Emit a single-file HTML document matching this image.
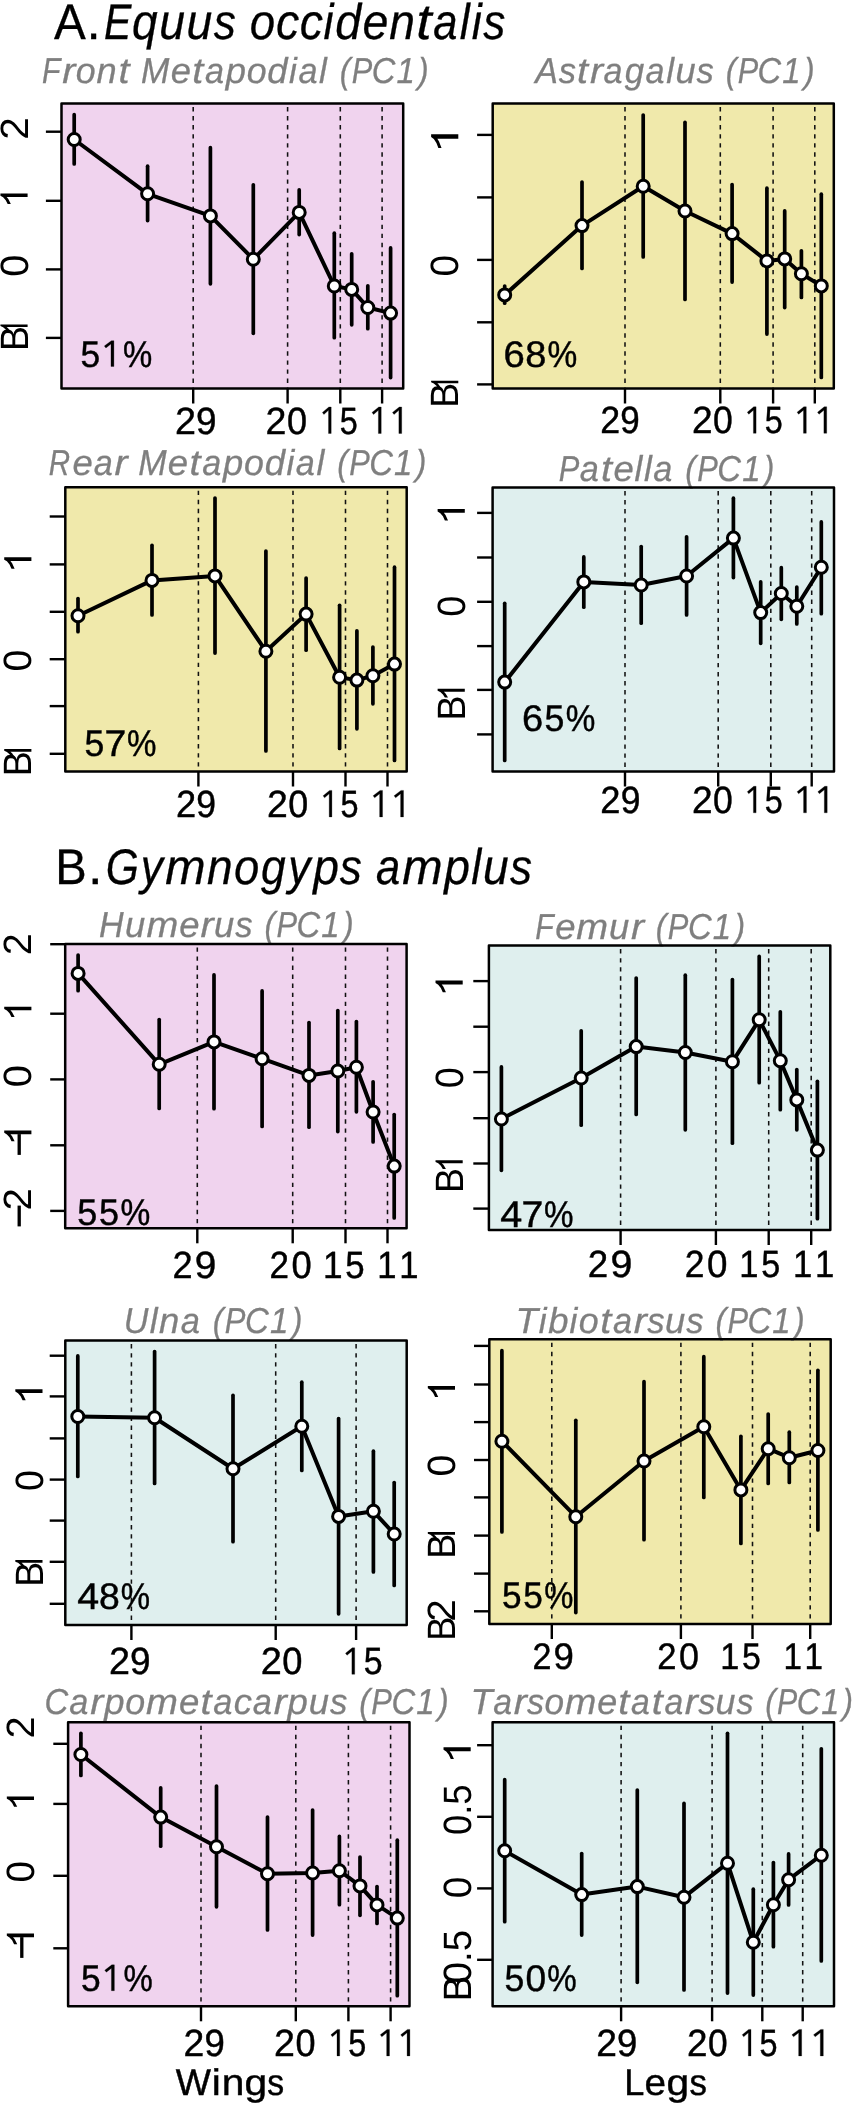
<!DOCTYPE html>
<html lang="en"><head><meta charset="utf-8"><title>Figure</title>
<style>
html,body{margin:0;padding:0;background:#fff;width:854px;height:2104px;overflow:hidden;}
svg{display:block;font-family:"Liberation Sans",sans-serif;font-kerning:none;}
text{font-kerning:none;text-rendering:geometricPrecision;}
.t{filter:grayscale(1);}
</style></head><body>
<svg width="854" height="2104" viewBox="0 0 854 2104">
<rect x="0" y="0" width="854" height="2104" fill="#fff"/>
<g class="t" font-size="50" fill="#000" stroke="#000" stroke-width="0.3">
<text transform="translate(54.11,38.60) scale(0.953,1)">A</text>
<text transform="translate(86.56,38.60) scale(1.023,1)">.</text>
</g>
<g class="t" font-size="50" font-style="italic" fill="#000" stroke="#000" stroke-width="0.3">
<text transform="translate(103.97,38.60) scale(0.820,1)">E</text>
<text transform="translate(131.91,38.60) scale(0.920,1)">q</text>
<text transform="translate(159.29,38.60) scale(0.926,1)">u</text>
<text transform="translate(186.53,38.60) scale(0.926,1)">u</text>
<text transform="translate(213.63,38.60) scale(0.882,1)">s</text>
<text transform="translate(249.77,38.60) scale(0.911,1)">o</text>
<text transform="translate(276.03,38.60) scale(0.926,1)">c</text>
<text transform="translate(299.65,38.60) scale(0.926,1)">c</text>
<text transform="translate(323.60,38.60) scale(0.898,1)">i</text>
<text transform="translate(335.17,38.60) scale(0.931,1)">d</text>
<text transform="translate(362.45,38.60) scale(0.931,1)">e</text>
<text transform="translate(389.23,38.60) scale(0.925,1)">n</text>
<text transform="translate(416.36,38.60) scale(1.100,1)">t</text>
<text transform="translate(433.36,38.60) scale(0.871,1)">a</text>
<text transform="translate(459.69,38.60) scale(0.898,1)">l</text>
<text transform="translate(471.63,38.60) scale(0.898,1)">i</text>
<text transform="translate(483.16,38.60) scale(0.882,1)">s</text>
</g>
<g class="t" font-size="50" fill="#000" stroke="#000" stroke-width="0.3">
<text transform="translate(55.13,884.20) scale(0.943,1)">B</text>
<text transform="translate(87.91,884.20) scale(1.050,1)">.</text>
</g>
<g class="t" font-size="50" font-style="italic" fill="#000" stroke="#000" stroke-width="0.3">
<text transform="translate(105.80,884.20) scale(0.851,1)">G</text>
<text transform="translate(140.64,884.20) scale(0.887,1)">y</text>
<text transform="translate(165.22,884.20) scale(0.970,1)">m</text>
<text transform="translate(207.00,884.20) scale(0.922,1)">n</text>
<text transform="translate(233.90,884.20) scale(0.908,1)">o</text>
<text transform="translate(260.92,884.20) scale(0.887,1)">g</text>
<text transform="translate(288.28,884.20) scale(0.887,1)">y</text>
<text transform="translate(313.20,884.20) scale(0.925,1)">p</text>
<text transform="translate(339.75,884.20) scale(0.879,1)">s</text>
<text transform="translate(376.08,884.20) scale(0.869,1)">a</text>
<text transform="translate(402.24,884.20) scale(0.970,1)">m</text>
<text transform="translate(444.31,884.20) scale(0.925,1)">p</text>
<text transform="translate(471.27,884.20) scale(0.895,1)">l</text>
<text transform="translate(482.91,884.20) scale(0.923,1)">u</text>
<text transform="translate(509.92,884.20) scale(0.879,1)">s</text>
</g>
<rect x="61.5" y="103.5" width="341.70" height="285.00" fill="#F0D3EE"/>
<line x1="193.2" y1="107.00" x2="193.2" y2="388.5" stroke="#111" stroke-width="1.55" stroke-dasharray="4.4 4.65"/>
<line x1="193.2" y1="388.5" x2="193.2" y2="403.5" stroke="#000" stroke-width="2.4"/>
<line x1="287.6" y1="107.00" x2="287.6" y2="388.5" stroke="#111" stroke-width="1.55" stroke-dasharray="4.4 4.65"/>
<line x1="287.6" y1="388.5" x2="287.6" y2="403.5" stroke="#000" stroke-width="2.4"/>
<line x1="340.3" y1="107.00" x2="340.3" y2="388.5" stroke="#111" stroke-width="1.55" stroke-dasharray="4.4 4.65"/>
<line x1="340.3" y1="388.5" x2="340.3" y2="403.5" stroke="#000" stroke-width="2.4"/>
<line x1="382.1" y1="107.00" x2="382.1" y2="388.5" stroke="#111" stroke-width="1.55" stroke-dasharray="4.4 4.65"/>
<line x1="382.1" y1="388.5" x2="382.1" y2="403.5" stroke="#000" stroke-width="2.4"/>
<line x1="45.9" y1="131.7" x2="61.5" y2="131.7" stroke="#000" stroke-width="2.4"/>
<line x1="45.9" y1="200.8" x2="61.5" y2="200.8" stroke="#000" stroke-width="2.4"/>
<line x1="45.9" y1="269.4" x2="61.5" y2="269.4" stroke="#000" stroke-width="2.4"/>
<line x1="45.9" y1="337.9" x2="61.5" y2="337.9" stroke="#000" stroke-width="2.4"/>
<g class="t" font-size="36" font-style="italic" fill="#7F7F7F" stroke="#7F7F7F" stroke-width="0.3">
<text transform="translate(41.97,83.00) scale(0.837,1)">F</text>
<text transform="translate(62.21,83.00) scale(1.100,1)">r</text>
<text transform="translate(75.64,83.00) scale(0.991,1)">o</text>
<text transform="translate(96.48,83.00) scale(1.006,1)">n</text>
<text transform="translate(118.40,83.00) scale(1.100,1)">t</text>
<text transform="translate(141.09,83.00) scale(0.945,1)">M</text>
<text transform="translate(170.65,83.00) scale(1.013,1)">e</text>
<text transform="translate(192.20,83.00) scale(1.100,1)">t</text>
<text transform="translate(204.92,83.00) scale(0.949,1)">a</text>
<text transform="translate(225.78,83.00) scale(1.010,1)">p</text>
<text transform="translate(246.77,83.00) scale(0.991,1)">o</text>
<text transform="translate(267.34,83.00) scale(1.013,1)">d</text>
<text transform="translate(289.06,83.00) scale(0.975,1)">i</text>
<text transform="translate(298.42,83.00) scale(0.949,1)">a</text>
<text transform="translate(319.10,83.00) scale(0.975,1)">l</text>
<text transform="translate(339.68,83.00) scale(0.884,1)">(</text>
<text transform="translate(351.69,83.00) scale(0.854,1)">P</text>
<text transform="translate(371.68,83.00) scale(0.910,1)">C</text>
<text transform="translate(396.42,83.00) scale(0.916,1)">1</text>
<text transform="translate(418.09,83.00) scale(0.885,1)">)</text>
</g>
<rect x="61.5" y="103.5" width="341.70" height="285.00" fill="none" stroke="#000" stroke-width="2.5" stroke-linejoin="round"/>
<line x1="74.2" y1="114.7" x2="74.2" y2="164.0" stroke="#000" stroke-width="3.7" stroke-linecap="round"/>
<line x1="147.6" y1="166.2" x2="147.6" y2="220.6" stroke="#000" stroke-width="3.7" stroke-linecap="round"/>
<line x1="210.4" y1="147.7" x2="210.4" y2="283.8" stroke="#000" stroke-width="3.7" stroke-linecap="round"/>
<line x1="253.3" y1="184.8" x2="253.3" y2="333.3" stroke="#000" stroke-width="3.7" stroke-linecap="round"/>
<line x1="299.2" y1="189.9" x2="299.2" y2="234.6" stroke="#000" stroke-width="3.7" stroke-linecap="round"/>
<line x1="334.3" y1="233.2" x2="334.3" y2="337.7" stroke="#000" stroke-width="3.7" stroke-linecap="round"/>
<line x1="351.7" y1="253.8" x2="351.7" y2="324.8" stroke="#000" stroke-width="3.7" stroke-linecap="round"/>
<line x1="367.8" y1="285.8" x2="367.8" y2="328.7" stroke="#000" stroke-width="3.7" stroke-linecap="round"/>
<line x1="390.6" y1="247.9" x2="390.6" y2="377.6" stroke="#000" stroke-width="3.7" stroke-linecap="round"/>
<polyline fill="none" stroke="#000" stroke-width="4.0" stroke-linejoin="round" points="74.2,139.5 147.6,193.8 210.4,215.9 253.3,259.2 299.2,212.4 334.3,286.0 351.7,289.4 367.8,307.5 390.6,313.1"/>
<circle cx="74.2" cy="139.5" r="6.0" fill="#fff" stroke="#000" stroke-width="3.0"/>
<circle cx="147.6" cy="193.8" r="6.0" fill="#fff" stroke="#000" stroke-width="3.0"/>
<circle cx="210.4" cy="215.9" r="6.0" fill="#fff" stroke="#000" stroke-width="3.0"/>
<circle cx="253.3" cy="259.2" r="6.0" fill="#fff" stroke="#000" stroke-width="3.0"/>
<circle cx="299.2" cy="212.4" r="6.0" fill="#fff" stroke="#000" stroke-width="3.0"/>
<circle cx="334.3" cy="286.0" r="6.0" fill="#fff" stroke="#000" stroke-width="3.0"/>
<circle cx="351.7" cy="289.4" r="6.0" fill="#fff" stroke="#000" stroke-width="3.0"/>
<circle cx="367.8" cy="307.5" r="6.0" fill="#fff" stroke="#000" stroke-width="3.0"/>
<circle cx="390.6" cy="313.1" r="6.0" fill="#fff" stroke="#000" stroke-width="3.0"/>
<text transform="translate(27.60,137.80) rotate(-90) scale(1.0281,1.0) translate(-1.99,0)" class="t" font-size="39.5" fill="#000">2</text>
<polygon transform="translate(27.60,204.10) rotate(-90)" points="10.70,0.00 7.13,0.00 7.13,-20.95 5.09,-19.28 0.00,-16.78 0.00,-19.93 3.90,-21.87 6.88,-24.47 8.46,-27.18 10.70,-27.18" fill="#000"/>
<text transform="translate(27.60,275.20) rotate(-90) scale(1.0062,1.0) translate(-1.54,0)" class="t" font-size="39.5" fill="#000">0</text>
<text transform="translate(27.60,348.00) rotate(-90) scale(0.9513,1.0) translate(-3.24,0)" class="t" font-size="39.5" fill="#000">B</text>
<polygon transform="translate(27.60,332.40) rotate(-90)" points="8.00,0.00 5.33,0.00 5.33,-20.95 3.81,-19.28 0.00,-16.78 0.00,-19.93 2.92,-21.87 5.14,-24.47 6.33,-27.18 8.00,-27.18" fill="#000"/>
<g class="t" font-size="38" fill="#000" stroke="#000" stroke-width="0.45">
<text transform="translate(174.90,433.50) scale(0.992,1)">2</text>
<text transform="translate(196.10,433.50) scale(0.972,1)">9</text>
</g>
<g class="t" font-size="38" fill="#000" stroke="#000" stroke-width="0.45">
<text transform="translate(265.61,433.50) scale(0.988,1)">2</text>
<text transform="translate(286.98,433.50) scale(0.948,1)">0</text>
</g>
<g class="t" font-size="38" fill="#000" stroke="#000" stroke-width="0.45">
<polygon points="331.20,433.50 328.50,433.50 328.50,410.37 323.87,414.47 322.40,412.40 328.86,406.98 331.20,406.98" stroke-width="0.27"/>
<text transform="translate(339.74,433.50) scale(0.853,1)">5</text>
</g>
<g class="t" font-size="38" fill="#000" stroke="#000" stroke-width="0.45">
<polygon points="381.22,433.50 378.38,433.50 378.38,410.37 373.54,414.47 372.00,412.40 378.77,406.98 381.22,406.98" stroke-width="0.27"/>
<polygon points="401.70,433.50 398.87,433.50 398.87,410.37 394.02,414.47 392.48,412.40 399.25,406.98 401.70,406.98" stroke-width="0.27"/>
</g>
<g class="t" font-size="37" fill="#000" stroke="#000" stroke-width="0.45">
<text transform="translate(80.59,366.50) scale(0.955,1)">5</text>
<polygon points="113.91,366.50 110.97,366.50 110.97,343.98 105.92,347.97 104.32,345.96 111.37,340.67 113.91,340.67" stroke-width="0.27"/>
<text transform="translate(122.94,366.50) scale(0.889,1)">%</text>
</g>
<rect x="492.7" y="103.5" width="341.10" height="285.00" fill="#F0E9AB"/>
<line x1="625.0" y1="107.00" x2="625.0" y2="388.5" stroke="#111" stroke-width="1.55" stroke-dasharray="4.4 4.65"/>
<line x1="625.0" y1="388.5" x2="625.0" y2="403.5" stroke="#000" stroke-width="2.4"/>
<line x1="720.3" y1="107.00" x2="720.3" y2="388.5" stroke="#111" stroke-width="1.55" stroke-dasharray="4.4 4.65"/>
<line x1="720.3" y1="388.5" x2="720.3" y2="403.5" stroke="#000" stroke-width="2.4"/>
<line x1="773.1" y1="107.00" x2="773.1" y2="388.5" stroke="#111" stroke-width="1.55" stroke-dasharray="4.4 4.65"/>
<line x1="773.1" y1="388.5" x2="773.1" y2="403.5" stroke="#000" stroke-width="2.4"/>
<line x1="814.8" y1="107.00" x2="814.8" y2="388.5" stroke="#111" stroke-width="1.55" stroke-dasharray="4.4 4.65"/>
<line x1="814.8" y1="388.5" x2="814.8" y2="403.5" stroke="#000" stroke-width="2.4"/>
<line x1="477.1" y1="134.9" x2="492.7" y2="134.9" stroke="#000" stroke-width="2.4"/>
<line x1="477.1" y1="197.4" x2="492.7" y2="197.4" stroke="#000" stroke-width="2.4"/>
<line x1="477.1" y1="259.9" x2="492.7" y2="259.9" stroke="#000" stroke-width="2.4"/>
<line x1="477.1" y1="322.3" x2="492.7" y2="322.3" stroke="#000" stroke-width="2.4"/>
<line x1="477.1" y1="384.4" x2="492.7" y2="384.4" stroke="#000" stroke-width="2.4"/>
<g class="t" font-size="36" font-style="italic" fill="#7F7F7F" stroke="#7F7F7F" stroke-width="0.3">
<text transform="translate(535.27,83.20) scale(0.943,1)">A</text>
<text transform="translate(558.71,83.20) scale(0.958,1)">s</text>
<text transform="translate(577.07,83.20) scale(1.100,1)">t</text>
<text transform="translate(589.95,83.20) scale(1.100,1)">r</text>
<text transform="translate(603.61,83.20) scale(0.947,1)">a</text>
<text transform="translate(624.64,83.20) scale(0.967,1)">g</text>
<text transform="translate(645.61,83.20) scale(0.947,1)">a</text>
<text transform="translate(666.24,83.20) scale(0.973,1)">l</text>
<text transform="translate(675.38,83.20) scale(1.006,1)">u</text>
<text transform="translate(696.60,83.20) scale(0.958,1)">s</text>
<text transform="translate(725.66,83.20) scale(0.882,1)">(</text>
<text transform="translate(737.64,83.20) scale(0.852,1)">P</text>
<text transform="translate(757.59,83.20) scale(0.908,1)">C</text>
<text transform="translate(782.28,83.20) scale(0.915,1)">1</text>
<text transform="translate(803.90,83.20) scale(0.883,1)">)</text>
</g>
<rect x="492.7" y="103.5" width="341.10" height="285.00" fill="none" stroke="#000" stroke-width="2.5" stroke-linejoin="round"/>
<line x1="504.7" y1="286.1" x2="504.7" y2="303.2" stroke="#000" stroke-width="3.7" stroke-linecap="round"/>
<line x1="582.0" y1="182.1" x2="582.0" y2="268.5" stroke="#000" stroke-width="3.7" stroke-linecap="round"/>
<line x1="643.2" y1="115.1" x2="643.2" y2="256.9" stroke="#000" stroke-width="3.7" stroke-linecap="round"/>
<line x1="685.0" y1="122.3" x2="685.0" y2="299.4" stroke="#000" stroke-width="3.7" stroke-linecap="round"/>
<line x1="732.1" y1="184.6" x2="732.1" y2="282.1" stroke="#000" stroke-width="3.7" stroke-linecap="round"/>
<line x1="766.9" y1="188.2" x2="766.9" y2="334.1" stroke="#000" stroke-width="3.7" stroke-linecap="round"/>
<line x1="784.7" y1="210.9" x2="784.7" y2="307.6" stroke="#000" stroke-width="3.7" stroke-linecap="round"/>
<line x1="801.4" y1="250.8" x2="801.4" y2="297.5" stroke="#000" stroke-width="3.7" stroke-linecap="round"/>
<line x1="821.3" y1="194.2" x2="821.3" y2="377.4" stroke="#000" stroke-width="3.7" stroke-linecap="round"/>
<polyline fill="none" stroke="#000" stroke-width="4.0" stroke-linejoin="round" points="504.7,294.9 582.0,225.6 643.2,186.2 685.0,211.0 732.1,233.6 766.9,260.9 784.7,258.9 801.4,273.8 821.3,285.9"/>
<circle cx="504.7" cy="294.9" r="6.0" fill="#fff" stroke="#000" stroke-width="3.0"/>
<circle cx="582.0" cy="225.6" r="6.0" fill="#fff" stroke="#000" stroke-width="3.0"/>
<circle cx="643.2" cy="186.2" r="6.0" fill="#fff" stroke="#000" stroke-width="3.0"/>
<circle cx="685.0" cy="211.0" r="6.0" fill="#fff" stroke="#000" stroke-width="3.0"/>
<circle cx="732.1" cy="233.6" r="6.0" fill="#fff" stroke="#000" stroke-width="3.0"/>
<circle cx="766.9" cy="260.9" r="6.0" fill="#fff" stroke="#000" stroke-width="3.0"/>
<circle cx="784.7" cy="258.9" r="6.0" fill="#fff" stroke="#000" stroke-width="3.0"/>
<circle cx="801.4" cy="273.8" r="6.0" fill="#fff" stroke="#000" stroke-width="3.0"/>
<circle cx="821.3" cy="285.9" r="6.0" fill="#fff" stroke="#000" stroke-width="3.0"/>
<polygon transform="translate(458.30,147.90) rotate(-90)" points="13.70,0.00 9.13,0.00 9.13,-20.95 6.52,-19.28 0.00,-16.78 0.00,-19.93 5.00,-21.87 8.80,-24.47 10.83,-27.18 13.70,-27.18" fill="#000"/>
<text transform="translate(458.30,275.10) rotate(-90) scale(0.9851,1.0) translate(-1.54,0)" class="t" font-size="39.5" fill="#000">0</text>
<text transform="translate(458.30,404.70) rotate(-90) scale(0.9513,1.0) translate(-3.24,0)" class="t" font-size="39.5" fill="#000">B</text>
<polygon transform="translate(458.30,388.70) rotate(-90)" points="8.00,0.00 5.33,0.00 5.33,-20.95 3.81,-19.28 0.00,-16.78 0.00,-19.93 2.92,-21.87 5.14,-24.47 6.33,-27.18 8.00,-27.18" fill="#000"/>
<g class="t" font-size="38" fill="#000" stroke="#000" stroke-width="0.45">
<text transform="translate(600.20,433.30) scale(0.940,1)">2</text>
<text transform="translate(620.29,433.30) scale(0.921,1)">9</text>
</g>
<g class="t" font-size="38" fill="#000" stroke="#000" stroke-width="0.45">
<text transform="translate(691.94,433.30) scale(0.975,1)">2</text>
<text transform="translate(713.02,433.30) scale(0.935,1)">0</text>
</g>
<g class="t" font-size="38" fill="#000" stroke="#000" stroke-width="0.45">
<polygon points="756.10,433.30 753.40,433.30 753.40,410.17 748.77,414.27 747.30,412.20 753.76,406.78 756.10,406.78" stroke-width="0.27"/>
<text transform="translate(764.64,433.30) scale(0.853,1)">5</text>
</g>
<g class="t" font-size="38" fill="#000" stroke="#000" stroke-width="0.45">
<polygon points="806.29,433.30 803.46,433.30 803.46,410.17 798.63,414.27 797.10,412.20 803.85,406.78 806.29,406.78" stroke-width="0.27"/>
<polygon points="826.70,433.30 823.88,433.30 823.88,410.17 819.05,414.27 817.51,412.20 824.26,406.78 826.70,406.78" stroke-width="0.27"/>
</g>
<g class="t" font-size="37" fill="#000" stroke="#000" stroke-width="0.45">
<text transform="translate(503.56,366.50) scale(1.035,1)">6</text>
<text transform="translate(525.30,366.50) scale(1.025,1)">8</text>
<text transform="translate(547.45,366.50) scale(0.904,1)">%</text>
</g>
<rect x="65.3" y="487.2" width="341.40" height="284.30" fill="#F0E9AB"/>
<line x1="198.4" y1="490.70" x2="198.4" y2="771.5" stroke="#111" stroke-width="1.55" stroke-dasharray="4.4 4.65"/>
<line x1="198.4" y1="771.5" x2="198.4" y2="786.5" stroke="#000" stroke-width="2.4"/>
<line x1="293.0" y1="490.70" x2="293.0" y2="771.5" stroke="#111" stroke-width="1.55" stroke-dasharray="4.4 4.65"/>
<line x1="293.0" y1="771.5" x2="293.0" y2="786.5" stroke="#000" stroke-width="2.4"/>
<line x1="345.5" y1="490.70" x2="345.5" y2="771.5" stroke="#111" stroke-width="1.55" stroke-dasharray="4.4 4.65"/>
<line x1="345.5" y1="771.5" x2="345.5" y2="786.5" stroke="#000" stroke-width="2.4"/>
<line x1="387.5" y1="490.70" x2="387.5" y2="771.5" stroke="#111" stroke-width="1.55" stroke-dasharray="4.4 4.65"/>
<line x1="387.5" y1="771.5" x2="387.5" y2="786.5" stroke="#000" stroke-width="2.4"/>
<line x1="49.7" y1="516.5" x2="65.3" y2="516.5" stroke="#000" stroke-width="2.4"/>
<line x1="49.7" y1="564.4" x2="65.3" y2="564.4" stroke="#000" stroke-width="2.4"/>
<line x1="49.7" y1="611.8" x2="65.3" y2="611.8" stroke="#000" stroke-width="2.4"/>
<line x1="49.7" y1="659.2" x2="65.3" y2="659.2" stroke="#000" stroke-width="2.4"/>
<line x1="49.7" y1="706.1" x2="65.3" y2="706.1" stroke="#000" stroke-width="2.4"/>
<line x1="49.7" y1="753.8" x2="65.3" y2="753.8" stroke="#000" stroke-width="2.4"/>
<g class="t" font-size="36" font-style="italic" fill="#7F7F7F" stroke="#7F7F7F" stroke-width="0.3">
<text transform="translate(48.72,475.30) scale(0.820,1)">R</text>
<text transform="translate(72.59,475.30) scale(1.015,1)">e</text>
<text transform="translate(93.67,475.30) scale(0.950,1)">a</text>
<text transform="translate(114.58,475.30) scale(1.100,1)">r</text>
<text transform="translate(138.24,475.30) scale(0.946,1)">M</text>
<text transform="translate(167.85,475.30) scale(1.015,1)">e</text>
<text transform="translate(189.45,475.30) scale(1.100,1)">t</text>
<text transform="translate(202.18,475.30) scale(0.950,1)">a</text>
<text transform="translate(223.07,475.30) scale(1.012,1)">p</text>
<text transform="translate(244.09,475.30) scale(0.992,1)">o</text>
<text transform="translate(264.70,475.30) scale(1.014,1)">d</text>
<text transform="translate(286.44,475.30) scale(0.977,1)">i</text>
<text transform="translate(295.82,475.30) scale(0.950,1)">a</text>
<text transform="translate(316.53,475.30) scale(0.977,1)">l</text>
<text transform="translate(337.14,475.30) scale(0.885,1)">(</text>
<text transform="translate(349.17,475.30) scale(0.855,1)">P</text>
<text transform="translate(369.19,475.30) scale(0.911,1)">C</text>
<text transform="translate(393.97,475.30) scale(0.918,1)">1</text>
<text transform="translate(415.67,475.30) scale(0.886,1)">)</text>
</g>
<rect x="65.3" y="487.2" width="341.40" height="284.30" fill="none" stroke="#000" stroke-width="2.5" stroke-linejoin="round"/>
<line x1="78.0" y1="598.6" x2="78.0" y2="631.7" stroke="#000" stroke-width="3.7" stroke-linecap="round"/>
<line x1="152.0" y1="545.3" x2="152.0" y2="615.0" stroke="#000" stroke-width="3.7" stroke-linecap="round"/>
<line x1="215.0" y1="498.0" x2="215.0" y2="653.1" stroke="#000" stroke-width="3.7" stroke-linecap="round"/>
<line x1="265.9" y1="551.0" x2="265.9" y2="751.0" stroke="#000" stroke-width="3.7" stroke-linecap="round"/>
<line x1="306.1" y1="578.0" x2="306.1" y2="650.2" stroke="#000" stroke-width="3.7" stroke-linecap="round"/>
<line x1="339.6" y1="605.3" x2="339.6" y2="748.4" stroke="#000" stroke-width="3.7" stroke-linecap="round"/>
<line x1="356.9" y1="630.8" x2="356.9" y2="728.8" stroke="#000" stroke-width="3.7" stroke-linecap="round"/>
<line x1="372.9" y1="647.1" x2="372.9" y2="703.8" stroke="#000" stroke-width="3.7" stroke-linecap="round"/>
<line x1="394.5" y1="567.2" x2="394.5" y2="760.5" stroke="#000" stroke-width="3.7" stroke-linecap="round"/>
<polyline fill="none" stroke="#000" stroke-width="4.0" stroke-linejoin="round" points="78.0,615.7 152.0,580.4 215.0,575.9 265.9,651.2 306.1,614.1 339.6,677.3 356.9,680.1 372.9,675.7 394.5,664.1"/>
<circle cx="78.0" cy="615.7" r="6.0" fill="#fff" stroke="#000" stroke-width="3.0"/>
<circle cx="152.0" cy="580.4" r="6.0" fill="#fff" stroke="#000" stroke-width="3.0"/>
<circle cx="215.0" cy="575.9" r="6.0" fill="#fff" stroke="#000" stroke-width="3.0"/>
<circle cx="265.9" cy="651.2" r="6.0" fill="#fff" stroke="#000" stroke-width="3.0"/>
<circle cx="306.1" cy="614.1" r="6.0" fill="#fff" stroke="#000" stroke-width="3.0"/>
<circle cx="339.6" cy="677.3" r="6.0" fill="#fff" stroke="#000" stroke-width="3.0"/>
<circle cx="356.9" cy="680.1" r="6.0" fill="#fff" stroke="#000" stroke-width="3.0"/>
<circle cx="372.9" cy="675.7" r="6.0" fill="#fff" stroke="#000" stroke-width="3.0"/>
<circle cx="394.5" cy="664.1" r="6.0" fill="#fff" stroke="#000" stroke-width="3.0"/>
<polygon transform="translate(31.40,568.80) rotate(-90)" points="11.60,0.00 7.73,0.00 7.73,-20.95 5.52,-19.28 0.00,-16.78 0.00,-19.93 4.23,-21.87 7.45,-24.47 9.17,-27.18 11.60,-27.18" fill="#000"/>
<text transform="translate(31.40,670.00) rotate(-90) scale(0.9957,1.0) translate(-1.54,0)" class="t" font-size="39.5" fill="#000">0</text>
<text transform="translate(31.40,773.10) rotate(-90) scale(0.9513,1.0) translate(-3.24,0)" class="t" font-size="39.5" fill="#000">B</text>
<polygon transform="translate(31.40,757.10) rotate(-90)" points="8.00,0.00 5.33,0.00 5.33,-20.95 3.81,-19.28 0.00,-16.78 0.00,-19.93 2.92,-21.87 5.14,-24.47 6.33,-27.18 8.00,-27.18" fill="#000"/>
<g class="t" font-size="38" fill="#000" stroke="#000" stroke-width="0.45">
<text transform="translate(175.88,816.90) scale(0.953,1)">2</text>
<text transform="translate(196.24,816.90) scale(0.934,1)">9</text>
</g>
<g class="t" font-size="38" fill="#000" stroke="#000" stroke-width="0.45">
<text transform="translate(267.12,816.90) scale(0.983,1)">2</text>
<text transform="translate(288.37,816.90) scale(0.943,1)">0</text>
</g>
<g class="t" font-size="38" fill="#000" stroke="#000" stroke-width="0.45">
<polygon points="331.90,816.90 329.20,816.90 329.20,793.77 324.57,797.87 323.10,795.80 329.56,790.38 331.90,790.38" stroke-width="0.27"/>
<text transform="translate(340.44,816.90) scale(0.853,1)">5</text>
</g>
<g class="t" font-size="38" fill="#000" stroke="#000" stroke-width="0.45">
<polygon points="382.54,816.90 379.63,816.90 379.63,793.77 374.68,797.87 373.10,795.80 380.03,790.38 382.54,790.38" stroke-width="0.27"/>
<polygon points="403.50,816.90 400.60,816.90 400.60,793.77 395.64,797.87 394.06,795.80 400.99,790.38 403.50,790.38" stroke-width="0.27"/>
</g>
<g class="t" font-size="37" fill="#000" stroke="#000" stroke-width="0.45">
<text transform="translate(84.38,755.60) scale(0.962,1)">5</text>
<text transform="translate(104.55,755.60) scale(1.061,1)">7</text>
<text transform="translate(127.03,755.60) scale(0.895,1)">%</text>
</g>
<rect x="492.6" y="487.5" width="341.40" height="284.00" fill="#DFEFEE"/>
<line x1="625.0" y1="491.00" x2="625.0" y2="771.5" stroke="#111" stroke-width="1.55" stroke-dasharray="4.4 4.65"/>
<line x1="625.0" y1="771.5" x2="625.0" y2="786.5" stroke="#000" stroke-width="2.4"/>
<line x1="718.2" y1="491.00" x2="718.2" y2="771.5" stroke="#111" stroke-width="1.55" stroke-dasharray="4.4 4.65"/>
<line x1="718.2" y1="771.5" x2="718.2" y2="786.5" stroke="#000" stroke-width="2.4"/>
<line x1="770.8" y1="491.00" x2="770.8" y2="771.5" stroke="#111" stroke-width="1.55" stroke-dasharray="4.4 4.65"/>
<line x1="770.8" y1="771.5" x2="770.8" y2="786.5" stroke="#000" stroke-width="2.4"/>
<line x1="811.7" y1="491.00" x2="811.7" y2="771.5" stroke="#111" stroke-width="1.55" stroke-dasharray="4.4 4.65"/>
<line x1="811.7" y1="771.5" x2="811.7" y2="786.5" stroke="#000" stroke-width="2.4"/>
<line x1="477.1" y1="512.9" x2="492.6" y2="512.9" stroke="#000" stroke-width="2.4"/>
<line x1="477.1" y1="557.5" x2="492.6" y2="557.5" stroke="#000" stroke-width="2.4"/>
<line x1="477.1" y1="601.8" x2="492.6" y2="601.8" stroke="#000" stroke-width="2.4"/>
<line x1="477.1" y1="646.1" x2="492.6" y2="646.1" stroke="#000" stroke-width="2.4"/>
<line x1="477.1" y1="689.9" x2="492.6" y2="689.9" stroke="#000" stroke-width="2.4"/>
<line x1="477.1" y1="734.4" x2="492.6" y2="734.4" stroke="#000" stroke-width="2.4"/>
<g class="t" font-size="36" font-style="italic" fill="#7F7F7F" stroke="#7F7F7F" stroke-width="0.3">
<text transform="translate(558.65,480.60) scale(0.856,1)">P</text>
<text transform="translate(579.70,480.60) scale(0.951,1)">a</text>
<text transform="translate(600.95,480.60) scale(1.100,1)">t</text>
<text transform="translate(613.39,480.60) scale(1.016,1)">e</text>
<text transform="translate(634.50,480.60) scale(0.978,1)">l</text>
<text transform="translate(643.89,480.60) scale(0.978,1)">l</text>
<text transform="translate(653.28,480.60) scale(0.951,1)">a</text>
<text transform="translate(685.25,480.60) scale(0.886,1)">(</text>
<text transform="translate(697.29,480.60) scale(0.856,1)">P</text>
<text transform="translate(717.34,480.60) scale(0.912,1)">C</text>
<text transform="translate(742.14,480.60) scale(0.919,1)">1</text>
<text transform="translate(763.86,480.60) scale(0.887,1)">)</text>
</g>
<rect x="492.6" y="487.5" width="341.40" height="284.00" fill="none" stroke="#000" stroke-width="2.5" stroke-linejoin="round"/>
<line x1="504.7" y1="603.3" x2="504.7" y2="760.5" stroke="#000" stroke-width="3.7" stroke-linecap="round"/>
<line x1="583.8" y1="556.9" x2="583.8" y2="607.2" stroke="#000" stroke-width="3.7" stroke-linecap="round"/>
<line x1="641.2" y1="546.6" x2="641.2" y2="623.2" stroke="#000" stroke-width="3.7" stroke-linecap="round"/>
<line x1="686.6" y1="536.8" x2="686.6" y2="615.0" stroke="#000" stroke-width="3.7" stroke-linecap="round"/>
<line x1="733.4" y1="498.2" x2="733.4" y2="577.6" stroke="#000" stroke-width="3.7" stroke-linecap="round"/>
<line x1="760.7" y1="581.9" x2="760.7" y2="643.3" stroke="#000" stroke-width="3.7" stroke-linecap="round"/>
<line x1="781.3" y1="567.7" x2="781.3" y2="619.3" stroke="#000" stroke-width="3.7" stroke-linecap="round"/>
<line x1="796.8" y1="587.0" x2="796.8" y2="624.0" stroke="#000" stroke-width="3.7" stroke-linecap="round"/>
<line x1="821.3" y1="521.9" x2="821.3" y2="613.7" stroke="#000" stroke-width="3.7" stroke-linecap="round"/>
<polyline fill="none" stroke="#000" stroke-width="4.0" stroke-linejoin="round" points="504.7,682.1 583.8,581.9 641.2,585.0 686.6,576.0 733.4,538.1 760.7,612.6 781.3,593.5 796.8,606.2 821.3,567.3"/>
<circle cx="504.7" cy="682.1" r="6.0" fill="#fff" stroke="#000" stroke-width="3.0"/>
<circle cx="583.8" cy="581.9" r="6.0" fill="#fff" stroke="#000" stroke-width="3.0"/>
<circle cx="641.2" cy="585.0" r="6.0" fill="#fff" stroke="#000" stroke-width="3.0"/>
<circle cx="686.6" cy="576.0" r="6.0" fill="#fff" stroke="#000" stroke-width="3.0"/>
<circle cx="733.4" cy="538.1" r="6.0" fill="#fff" stroke="#000" stroke-width="3.0"/>
<circle cx="760.7" cy="612.6" r="6.0" fill="#fff" stroke="#000" stroke-width="3.0"/>
<circle cx="781.3" cy="593.5" r="6.0" fill="#fff" stroke="#000" stroke-width="3.0"/>
<circle cx="796.8" cy="606.2" r="6.0" fill="#fff" stroke="#000" stroke-width="3.0"/>
<circle cx="821.3" cy="567.3" r="6.0" fill="#fff" stroke="#000" stroke-width="3.0"/>
<polygon transform="translate(464.80,520.60) rotate(-90)" points="11.60,0.00 7.73,0.00 7.73,-20.95 5.52,-19.28 0.00,-16.78 0.00,-19.93 4.23,-21.87 7.45,-24.47 9.17,-27.18 11.60,-27.18" fill="#000"/>
<text transform="translate(464.80,615.20) rotate(-90) scale(0.9586,1.0) translate(-1.54,0)" class="t" font-size="39.5" fill="#000">0</text>
<text transform="translate(464.80,717.50) rotate(-90) scale(0.9513,1.0) translate(-3.24,0)" class="t" font-size="39.5" fill="#000">B</text>
<polygon transform="translate(464.80,697.60) rotate(-90)" points="8.80,0.00 5.87,0.00 5.87,-20.95 4.19,-19.28 0.00,-16.78 0.00,-19.93 3.21,-21.87 5.65,-24.47 6.96,-27.18 8.80,-27.18" fill="#000"/>
<g class="t" font-size="38" fill="#000" stroke="#000" stroke-width="0.45">
<text transform="translate(600.28,812.80) scale(0.953,1)">2</text>
<text transform="translate(620.64,812.80) scale(0.934,1)">9</text>
</g>
<g class="t" font-size="38" fill="#000" stroke="#000" stroke-width="0.45">
<text transform="translate(691.94,812.80) scale(0.975,1)">2</text>
<text transform="translate(713.02,812.80) scale(0.935,1)">0</text>
</g>
<g class="t" font-size="38" fill="#000" stroke="#000" stroke-width="0.45">
<polygon points="756.10,812.80 753.40,812.80 753.40,789.67 748.77,793.77 747.30,791.70 753.76,786.28 756.10,786.28" stroke-width="0.27"/>
<text transform="translate(764.64,812.80) scale(0.853,1)">5</text>
</g>
<g class="t" font-size="38" fill="#000" stroke="#000" stroke-width="0.45">
<polygon points="806.44,812.80 803.57,812.80 803.57,789.67 798.66,793.77 797.10,791.70 803.96,786.28 806.44,786.28" stroke-width="0.27"/>
<polygon points="827.20,812.80 824.33,812.80 824.33,789.67 819.42,793.77 817.86,791.70 824.72,786.28 827.20,786.28" stroke-width="0.27"/>
</g>
<g class="t" font-size="37" fill="#000" stroke="#000" stroke-width="0.45">
<text transform="translate(522.07,731.10) scale(1.029,1)">6</text>
<text transform="translate(544.43,731.10) scale(0.966,1)">5</text>
<text transform="translate(565.71,731.10) scale(0.899,1)">%</text>
</g>
<rect x="65.2" y="943.9" width="341.40" height="284.40" fill="#F0D3EE"/>
<line x1="197.3" y1="947.40" x2="197.3" y2="1228.3" stroke="#111" stroke-width="1.55" stroke-dasharray="4.4 4.65"/>
<line x1="197.3" y1="1228.3" x2="197.3" y2="1243.3" stroke="#000" stroke-width="2.4"/>
<line x1="292.7" y1="947.40" x2="292.7" y2="1228.3" stroke="#111" stroke-width="1.55" stroke-dasharray="4.4 4.65"/>
<line x1="292.7" y1="1228.3" x2="292.7" y2="1243.3" stroke="#000" stroke-width="2.4"/>
<line x1="345.5" y1="947.40" x2="345.5" y2="1228.3" stroke="#111" stroke-width="1.55" stroke-dasharray="4.4 4.65"/>
<line x1="345.5" y1="1228.3" x2="345.5" y2="1243.3" stroke="#000" stroke-width="2.4"/>
<line x1="387.5" y1="947.40" x2="387.5" y2="1228.3" stroke="#111" stroke-width="1.55" stroke-dasharray="4.4 4.65"/>
<line x1="387.5" y1="1228.3" x2="387.5" y2="1243.3" stroke="#000" stroke-width="2.4"/>
<line x1="50.2" y1="944.2" x2="65.2" y2="944.2" stroke="#000" stroke-width="2.4"/>
<line x1="50.2" y1="1013.7" x2="65.2" y2="1013.7" stroke="#000" stroke-width="2.4"/>
<line x1="50.2" y1="1079.4" x2="65.2" y2="1079.4" stroke="#000" stroke-width="2.4"/>
<line x1="50.2" y1="1145.3" x2="65.2" y2="1145.3" stroke="#000" stroke-width="2.4"/>
<line x1="50.2" y1="1210.9" x2="65.2" y2="1210.9" stroke="#000" stroke-width="2.4"/>
<g class="t" font-size="36" font-style="italic" fill="#7F7F7F" stroke="#7F7F7F" stroke-width="0.3">
<text transform="translate(98.95,936.50) scale(0.947,1)">H</text>
<text transform="translate(124.91,936.50) scale(1.010,1)">u</text>
<text transform="translate(146.48,936.50) scale(1.061,1)">m</text>
<text transform="translate(179.16,936.50) scale(1.015,1)">e</text>
<text transform="translate(200.46,936.50) scale(1.100,1)">r</text>
<text transform="translate(213.94,936.50) scale(1.010,1)">u</text>
<text transform="translate(235.25,936.50) scale(0.962,1)">s</text>
<text transform="translate(264.41,936.50) scale(0.886,1)">(</text>
<text transform="translate(276.45,936.50) scale(0.856,1)">P</text>
<text transform="translate(296.47,936.50) scale(0.911,1)">C</text>
<text transform="translate(321.26,936.50) scale(0.918,1)">1</text>
<text transform="translate(342.97,936.50) scale(0.887,1)">)</text>
</g>
<rect x="65.2" y="943.9" width="341.40" height="284.40" fill="none" stroke="#000" stroke-width="2.5" stroke-linejoin="round"/>
<line x1="78.1" y1="955.1" x2="78.1" y2="990.7" stroke="#000" stroke-width="3.7" stroke-linecap="round"/>
<line x1="159.2" y1="1019.5" x2="159.2" y2="1108.4" stroke="#000" stroke-width="3.7" stroke-linecap="round"/>
<line x1="214.0" y1="974.9" x2="214.0" y2="1108.7" stroke="#000" stroke-width="3.7" stroke-linecap="round"/>
<line x1="262.1" y1="990.9" x2="262.1" y2="1126.5" stroke="#000" stroke-width="3.7" stroke-linecap="round"/>
<line x1="309.0" y1="1022.6" x2="309.0" y2="1127.2" stroke="#000" stroke-width="3.7" stroke-linecap="round"/>
<line x1="337.8" y1="1010.5" x2="337.8" y2="1131.6" stroke="#000" stroke-width="3.7" stroke-linecap="round"/>
<line x1="356.4" y1="1021.5" x2="356.4" y2="1111.8" stroke="#000" stroke-width="3.7" stroke-linecap="round"/>
<line x1="373.1" y1="1081.8" x2="373.1" y2="1141.9" stroke="#000" stroke-width="3.7" stroke-linecap="round"/>
<line x1="394.2" y1="1114.5" x2="394.2" y2="1217.9" stroke="#000" stroke-width="3.7" stroke-linecap="round"/>
<polyline fill="none" stroke="#000" stroke-width="4.0" stroke-linejoin="round" points="78.1,973.4 159.2,1064.3 214.0,1041.9 262.1,1058.7 309.0,1075.4 337.8,1071.0 356.4,1067.2 373.1,1112.0 394.2,1166.1"/>
<circle cx="78.1" cy="973.4" r="6.0" fill="#fff" stroke="#000" stroke-width="3.0"/>
<circle cx="159.2" cy="1064.3" r="6.0" fill="#fff" stroke="#000" stroke-width="3.0"/>
<circle cx="214.0" cy="1041.9" r="6.0" fill="#fff" stroke="#000" stroke-width="3.0"/>
<circle cx="262.1" cy="1058.7" r="6.0" fill="#fff" stroke="#000" stroke-width="3.0"/>
<circle cx="309.0" cy="1075.4" r="6.0" fill="#fff" stroke="#000" stroke-width="3.0"/>
<circle cx="337.8" cy="1071.0" r="6.0" fill="#fff" stroke="#000" stroke-width="3.0"/>
<circle cx="356.4" cy="1067.2" r="6.0" fill="#fff" stroke="#000" stroke-width="3.0"/>
<circle cx="373.1" cy="1112.0" r="6.0" fill="#fff" stroke="#000" stroke-width="3.0"/>
<circle cx="394.2" cy="1166.1" r="6.0" fill="#fff" stroke="#000" stroke-width="3.0"/>
<text transform="translate(31.40,953.30) rotate(-90) scale(1.0003,1.0) translate(-1.99,0)" class="t" font-size="39.5" fill="#000">2</text>
<polygon transform="translate(31.40,1017.10) rotate(-90)" points="10.30,0.00 6.87,0.00 6.87,-20.95 4.90,-19.28 0.00,-16.78 0.00,-19.93 3.76,-21.87 6.62,-24.47 8.14,-27.18 10.30,-27.18" fill="#000"/>
<text transform="translate(31.40,1085.60) rotate(-90) scale(1.0115,1.0) translate(-1.54,0)" class="t" font-size="39.5" fill="#000">0</text>
<polygon transform="translate(31.40,1141.20) rotate(-90)" points="10.60,0.00 7.07,0.00 7.07,-20.95 5.04,-19.28 0.00,-16.78 0.00,-19.93 3.87,-21.87 6.81,-24.47 8.38,-27.18 10.60,-27.18" fill="#000"/>
<rect x="17.55" y="1134.10" width="3.3" height="20.80" fill="#000"/>
<text transform="translate(31.40,1208.60) rotate(-90) scale(1.0170,1.0) translate(-1.99,0)" class="t" font-size="39.5" fill="#000">2</text>
<rect x="17.55" y="1205.60" width="3.3" height="20.80" fill="#000"/>
<g class="t" font-size="38" fill="#000" stroke="#000" stroke-width="0.45">
<text transform="translate(172.58,1278.00) scale(0.952,1)">2</text>
<text transform="translate(194.87,1278.00) scale(1.020,1)">9</text>
</g>
<g class="t" font-size="38" fill="#000" stroke="#000" stroke-width="0.45">
<text transform="translate(269.44,1278.00) scale(0.921,1)">2</text>
<text transform="translate(291.43,1278.00) scale(0.955,1)">0</text>
</g>
<g class="t" font-size="38" fill="#000" stroke="#000" stroke-width="0.45">
<text transform="translate(322.92,1278.00) scale(0.927,1)">1</text>
<text transform="translate(345.31,1278.00) scale(0.916,1)">5</text>
</g>
<g class="t" font-size="38" fill="#000" stroke="#000" stroke-width="0.45">
<text transform="translate(377.26,1278.00) scale(0.911,1)">1</text>
<text transform="translate(399.14,1278.00) scale(0.911,1)">1</text>
</g>
<g class="t" font-size="37" fill="#000" stroke="#000" stroke-width="0.45">
<text transform="translate(77.26,1225.30) scale(0.973,1)">5</text>
<text transform="translate(98.98,1225.30) scale(0.973,1)">5</text>
<text transform="translate(120.41,1225.30) scale(0.905,1)">%</text>
</g>
<rect x="488.9" y="945.6" width="341.40" height="284.40" fill="#DFEFEE"/>
<line x1="620.6" y1="949.10" x2="620.6" y2="1230.0" stroke="#111" stroke-width="1.55" stroke-dasharray="4.4 4.65"/>
<line x1="620.6" y1="1230.0" x2="620.6" y2="1245.0" stroke="#000" stroke-width="2.4"/>
<line x1="715.9" y1="949.10" x2="715.9" y2="1230.0" stroke="#111" stroke-width="1.55" stroke-dasharray="4.4 4.65"/>
<line x1="715.9" y1="1230.0" x2="715.9" y2="1245.0" stroke="#000" stroke-width="2.4"/>
<line x1="768.7" y1="949.10" x2="768.7" y2="1230.0" stroke="#111" stroke-width="1.55" stroke-dasharray="4.4 4.65"/>
<line x1="768.7" y1="1230.0" x2="768.7" y2="1245.0" stroke="#000" stroke-width="2.4"/>
<line x1="811.2" y1="949.10" x2="811.2" y2="1230.0" stroke="#111" stroke-width="1.55" stroke-dasharray="4.4 4.65"/>
<line x1="811.2" y1="1230.0" x2="811.2" y2="1245.0" stroke="#000" stroke-width="2.4"/>
<line x1="473.3" y1="981.1" x2="488.9" y2="981.1" stroke="#000" stroke-width="2.4"/>
<line x1="473.3" y1="1026.7" x2="488.9" y2="1026.7" stroke="#000" stroke-width="2.4"/>
<line x1="473.3" y1="1072.1" x2="488.9" y2="1072.1" stroke="#000" stroke-width="2.4"/>
<line x1="473.3" y1="1118.2" x2="488.9" y2="1118.2" stroke="#000" stroke-width="2.4"/>
<line x1="473.3" y1="1163.5" x2="488.9" y2="1163.5" stroke="#000" stroke-width="2.4"/>
<line x1="473.3" y1="1208.6" x2="488.9" y2="1208.6" stroke="#000" stroke-width="2.4"/>
<g class="t" font-size="36" font-style="italic" fill="#7F7F7F" stroke="#7F7F7F" stroke-width="0.3">
<text transform="translate(535.37,939.30) scale(0.839,1)">F</text>
<text transform="translate(555.17,939.30) scale(1.016,1)">e</text>
<text transform="translate(576.22,939.30) scale(1.062,1)">m</text>
<text transform="translate(609.02,939.30) scale(1.011,1)">u</text>
<text transform="translate(630.89,939.30) scale(1.100,1)">r</text>
<text transform="translate(655.83,939.30) scale(0.886,1)">(</text>
<text transform="translate(667.87,939.30) scale(0.857,1)">P</text>
<text transform="translate(687.92,939.30) scale(0.912,1)">C</text>
<text transform="translate(712.73,939.30) scale(0.919,1)">1</text>
<text transform="translate(734.46,939.30) scale(0.888,1)">)</text>
</g>
<rect x="488.9" y="945.6" width="341.40" height="284.40" fill="none" stroke="#000" stroke-width="2.5" stroke-linejoin="round"/>
<line x1="501.4" y1="1066.9" x2="501.4" y2="1170.3" stroke="#000" stroke-width="3.7" stroke-linecap="round"/>
<line x1="581.2" y1="1030.8" x2="581.2" y2="1125.2" stroke="#000" stroke-width="3.7" stroke-linecap="round"/>
<line x1="636.2" y1="978.0" x2="636.2" y2="1114.4" stroke="#000" stroke-width="3.7" stroke-linecap="round"/>
<line x1="685.3" y1="975.2" x2="685.3" y2="1129.8" stroke="#000" stroke-width="3.7" stroke-linecap="round"/>
<line x1="732.4" y1="979.6" x2="732.4" y2="1143.2" stroke="#000" stroke-width="3.7" stroke-linecap="round"/>
<line x1="759.2" y1="956.4" x2="759.2" y2="1082.7" stroke="#000" stroke-width="3.7" stroke-linecap="round"/>
<line x1="780.3" y1="1011.8" x2="780.3" y2="1109.7" stroke="#000" stroke-width="3.7" stroke-linecap="round"/>
<line x1="796.8" y1="1069.5" x2="796.8" y2="1129.8" stroke="#000" stroke-width="3.7" stroke-linecap="round"/>
<line x1="817.4" y1="1081.3" x2="817.4" y2="1218.7" stroke="#000" stroke-width="3.7" stroke-linecap="round"/>
<polyline fill="none" stroke="#000" stroke-width="4.0" stroke-linejoin="round" points="501.4,1119.0 581.2,1078.0 636.2,1046.6 685.3,1052.5 732.4,1061.8 759.2,1019.8 780.3,1060.7 796.8,1099.9 817.4,1150.1"/>
<circle cx="501.4" cy="1119.0" r="6.0" fill="#fff" stroke="#000" stroke-width="3.0"/>
<circle cx="581.2" cy="1078.0" r="6.0" fill="#fff" stroke="#000" stroke-width="3.0"/>
<circle cx="636.2" cy="1046.6" r="6.0" fill="#fff" stroke="#000" stroke-width="3.0"/>
<circle cx="685.3" cy="1052.5" r="6.0" fill="#fff" stroke="#000" stroke-width="3.0"/>
<circle cx="732.4" cy="1061.8" r="6.0" fill="#fff" stroke="#000" stroke-width="3.0"/>
<circle cx="759.2" cy="1019.8" r="6.0" fill="#fff" stroke="#000" stroke-width="3.0"/>
<circle cx="780.3" cy="1060.7" r="6.0" fill="#fff" stroke="#000" stroke-width="3.0"/>
<circle cx="796.8" cy="1099.9" r="6.0" fill="#fff" stroke="#000" stroke-width="3.0"/>
<circle cx="817.4" cy="1150.1" r="6.0" fill="#fff" stroke="#000" stroke-width="3.0"/>
<polygon transform="translate(462.70,992.20) rotate(-90)" points="11.60,0.00 7.73,0.00 7.73,-20.95 5.52,-19.28 0.00,-16.78 0.00,-19.93 4.23,-21.87 7.45,-24.47 9.17,-27.18 11.60,-27.18" fill="#000"/>
<text transform="translate(462.70,1086.80) rotate(-90) scale(0.9586,1.0) translate(-1.54,0)" class="t" font-size="39.5" fill="#000">0</text>
<text transform="translate(462.70,1189.80) rotate(-90) scale(0.9513,1.0) translate(-3.24,0)" class="t" font-size="39.5" fill="#000">B</text>
<polygon transform="translate(462.70,1169.00) rotate(-90)" points="8.80,0.00 5.87,0.00 5.87,-20.95 4.19,-19.28 0.00,-16.78 0.00,-19.93 3.21,-21.87 5.65,-24.47 6.96,-27.18 8.80,-27.18" fill="#000"/>
<g class="t" font-size="38" fill="#000" stroke="#000" stroke-width="0.45">
<text transform="translate(587.75,1277.40) scale(0.966,1)">2</text>
<text transform="translate(610.38,1277.40) scale(1.036,1)">9</text>
</g>
<g class="t" font-size="38" fill="#000" stroke="#000" stroke-width="0.45">
<text transform="translate(684.72,1277.40) scale(0.932,1)">2</text>
<text transform="translate(706.99,1277.40) scale(0.967,1)">0</text>
</g>
<g class="t" font-size="38" fill="#000" stroke="#000" stroke-width="0.45">
<text transform="translate(739.37,1277.40) scale(0.909,1)">1</text>
<text transform="translate(761.35,1277.40) scale(0.898,1)">5</text>
</g>
<g class="t" font-size="38" fill="#000" stroke="#000" stroke-width="0.45">
<text transform="translate(792.96,1277.40) scale(0.913,1)">1</text>
<text transform="translate(814.89,1277.40) scale(0.913,1)">1</text>
</g>
<g class="t" font-size="37" fill="#000" stroke="#000" stroke-width="0.45">
<text transform="translate(500.29,1226.60) scale(1.070,1)">4</text>
<text transform="translate(521.61,1226.60) scale(1.062,1)">7</text>
<text transform="translate(544.12,1226.60) scale(0.896,1)">%</text>
</g>
<rect x="65.3" y="1340.6" width="341.40" height="284.40" fill="#DFEFEE"/>
<line x1="131.4" y1="1344.10" x2="131.4" y2="1625.0" stroke="#111" stroke-width="1.55" stroke-dasharray="4.4 4.65"/>
<line x1="131.4" y1="1625.0" x2="131.4" y2="1640.0" stroke="#000" stroke-width="2.4"/>
<line x1="275.7" y1="1344.10" x2="275.7" y2="1625.0" stroke="#111" stroke-width="1.55" stroke-dasharray="4.4 4.65"/>
<line x1="275.7" y1="1625.0" x2="275.7" y2="1640.0" stroke="#000" stroke-width="2.4"/>
<line x1="356.1" y1="1344.10" x2="356.1" y2="1625.0" stroke="#111" stroke-width="1.55" stroke-dasharray="4.4 4.65"/>
<line x1="356.1" y1="1625.0" x2="356.1" y2="1640.0" stroke="#000" stroke-width="2.4"/>
<line x1="49.7" y1="1355.7" x2="65.3" y2="1355.7" stroke="#000" stroke-width="2.4"/>
<line x1="49.7" y1="1396.4" x2="65.3" y2="1396.4" stroke="#000" stroke-width="2.4"/>
<line x1="49.7" y1="1438.4" x2="65.3" y2="1438.4" stroke="#000" stroke-width="2.4"/>
<line x1="49.7" y1="1479.6" x2="65.3" y2="1479.6" stroke="#000" stroke-width="2.4"/>
<line x1="49.7" y1="1520.6" x2="65.3" y2="1520.6" stroke="#000" stroke-width="2.4"/>
<line x1="49.7" y1="1561.8" x2="65.3" y2="1561.8" stroke="#000" stroke-width="2.4"/>
<line x1="49.7" y1="1603.8" x2="65.3" y2="1603.8" stroke="#000" stroke-width="2.4"/>
<g class="t" font-size="36" font-style="italic" fill="#7F7F7F" stroke="#7F7F7F" stroke-width="0.3">
<text transform="translate(123.65,1332.50) scale(0.947,1)">U</text>
<text transform="translate(149.71,1332.50) scale(0.982,1)">l</text>
<text transform="translate(159.11,1332.50) scale(1.013,1)">n</text>
<text transform="translate(180.67,1332.50) scale(0.955,1)">a</text>
<text transform="translate(212.78,1332.50) scale(0.890,1)">(</text>
<text transform="translate(224.87,1332.50) scale(0.860,1)">P</text>
<text transform="translate(245.00,1332.50) scale(0.916,1)">C</text>
<text transform="translate(269.90,1332.50) scale(0.923,1)">1</text>
<text transform="translate(291.73,1332.50) scale(0.891,1)">)</text>
</g>
<rect x="65.3" y="1340.6" width="341.40" height="284.40" fill="none" stroke="#000" stroke-width="2.5" stroke-linejoin="round"/>
<line x1="77.8" y1="1355.9" x2="77.8" y2="1476.5" stroke="#000" stroke-width="3.7" stroke-linecap="round"/>
<line x1="154.6" y1="1351.5" x2="154.6" y2="1483.5" stroke="#000" stroke-width="3.7" stroke-linecap="round"/>
<line x1="233.0" y1="1395.3" x2="233.0" y2="1541.7" stroke="#000" stroke-width="3.7" stroke-linecap="round"/>
<line x1="301.8" y1="1382.2" x2="301.8" y2="1470.4" stroke="#000" stroke-width="3.7" stroke-linecap="round"/>
<line x1="338.6" y1="1418.5" x2="338.6" y2="1613.8" stroke="#000" stroke-width="3.7" stroke-linecap="round"/>
<line x1="373.4" y1="1451.2" x2="373.4" y2="1571.9" stroke="#000" stroke-width="3.7" stroke-linecap="round"/>
<line x1="394.2" y1="1482.6" x2="394.2" y2="1585.5" stroke="#000" stroke-width="3.7" stroke-linecap="round"/>
<polyline fill="none" stroke="#000" stroke-width="4.0" stroke-linejoin="round" points="77.8,1416.5 154.6,1417.8 233.0,1468.8 301.8,1426.3 338.6,1516.4 373.4,1511.3 394.2,1534.0"/>
<circle cx="77.8" cy="1416.5" r="6.0" fill="#fff" stroke="#000" stroke-width="3.0"/>
<circle cx="154.6" cy="1417.8" r="6.0" fill="#fff" stroke="#000" stroke-width="3.0"/>
<circle cx="233.0" cy="1468.8" r="6.0" fill="#fff" stroke="#000" stroke-width="3.0"/>
<circle cx="301.8" cy="1426.3" r="6.0" fill="#fff" stroke="#000" stroke-width="3.0"/>
<circle cx="338.6" cy="1516.4" r="6.0" fill="#fff" stroke="#000" stroke-width="3.0"/>
<circle cx="373.4" cy="1511.3" r="6.0" fill="#fff" stroke="#000" stroke-width="3.0"/>
<circle cx="394.2" cy="1534.0" r="6.0" fill="#fff" stroke="#000" stroke-width="3.0"/>
<polygon transform="translate(42.50,1400.30) rotate(-90)" points="11.10,0.00 7.40,0.00 7.40,-20.95 5.28,-19.28 0.00,-16.78 0.00,-19.93 4.05,-21.87 7.13,-24.47 8.78,-27.18 11.10,-27.18" fill="#000"/>
<text transform="translate(42.50,1489.60) rotate(-90) scale(0.9533,1.0) translate(-1.54,0)" class="t" font-size="39.5" fill="#000">0</text>
<text transform="translate(42.50,1583.70) rotate(-90) scale(0.9513,1.0) translate(-3.24,0)" class="t" font-size="39.5" fill="#000">B</text>
<polygon transform="translate(42.50,1568.00) rotate(-90)" points="8.00,0.00 5.33,0.00 5.33,-20.95 3.81,-19.28 0.00,-16.78 0.00,-19.93 2.92,-21.87 5.14,-24.47 6.33,-27.18 8.00,-27.18" fill="#000"/>
<g class="t" font-size="38" fill="#000" stroke="#000" stroke-width="0.45">
<text transform="translate(108.90,1674.30) scale(0.992,1)">2</text>
<text transform="translate(130.10,1674.30) scale(0.972,1)">9</text>
</g>
<g class="t" font-size="38" fill="#000" stroke="#000" stroke-width="0.45">
<text transform="translate(260.70,1674.30) scale(0.996,1)">2</text>
<text transform="translate(282.23,1674.30) scale(0.955,1)">0</text>
</g>
<g class="t" font-size="38" fill="#000" stroke="#000" stroke-width="0.45">
<polygon points="354.71,1674.30 351.88,1674.30 351.88,1651.17 347.04,1655.27 345.50,1653.20 352.27,1647.78 354.71,1647.78" stroke-width="0.27"/>
<text transform="translate(363.66,1674.30) scale(0.893,1)">5</text>
</g>
<g class="t" font-size="37" fill="#000" stroke="#000" stroke-width="0.45">
<text transform="translate(77.20,1609.40) scale(1.064,1)">4</text>
<text transform="translate(98.96,1609.40) scale(1.010,1)">8</text>
<text transform="translate(120.77,1609.40) scale(0.891,1)">%</text>
</g>
<rect x="489.3" y="1339.2" width="341.40" height="284.80" fill="#F0E9AB"/>
<line x1="551.8" y1="1342.70" x2="551.8" y2="1624.0" stroke="#111" stroke-width="1.55" stroke-dasharray="4.4 4.65"/>
<line x1="551.8" y1="1624.0" x2="551.8" y2="1639.0" stroke="#000" stroke-width="2.4"/>
<line x1="680.9" y1="1342.70" x2="680.9" y2="1624.0" stroke="#111" stroke-width="1.55" stroke-dasharray="4.4 4.65"/>
<line x1="680.9" y1="1624.0" x2="680.9" y2="1639.0" stroke="#000" stroke-width="2.4"/>
<line x1="752.5" y1="1342.70" x2="752.5" y2="1624.0" stroke="#111" stroke-width="1.55" stroke-dasharray="4.4 4.65"/>
<line x1="752.5" y1="1624.0" x2="752.5" y2="1639.0" stroke="#000" stroke-width="2.4"/>
<line x1="810.2" y1="1342.70" x2="810.2" y2="1624.0" stroke="#111" stroke-width="1.55" stroke-dasharray="4.4 4.65"/>
<line x1="810.2" y1="1624.0" x2="810.2" y2="1639.0" stroke="#000" stroke-width="2.4"/>
<line x1="474.0" y1="1345.9" x2="489.3" y2="1345.9" stroke="#000" stroke-width="2.4"/>
<line x1="474.0" y1="1384.5" x2="489.3" y2="1384.5" stroke="#000" stroke-width="2.4"/>
<line x1="474.0" y1="1422.1" x2="489.3" y2="1422.1" stroke="#000" stroke-width="2.4"/>
<line x1="474.0" y1="1460.0" x2="489.3" y2="1460.0" stroke="#000" stroke-width="2.4"/>
<line x1="474.0" y1="1497.4" x2="489.3" y2="1497.4" stroke="#000" stroke-width="2.4"/>
<line x1="474.0" y1="1535.6" x2="489.3" y2="1535.6" stroke="#000" stroke-width="2.4"/>
<line x1="474.0" y1="1573.6" x2="489.3" y2="1573.6" stroke="#000" stroke-width="2.4"/>
<line x1="474.0" y1="1611.3" x2="489.3" y2="1611.3" stroke="#000" stroke-width="2.4"/>
<g class="t" font-size="36" font-style="italic" fill="#7F7F7F" stroke="#7F7F7F" stroke-width="0.3">
<text transform="translate(515.59,1332.50) scale(1.024,1)">T</text>
<text transform="translate(538.72,1332.50) scale(0.977,1)">i</text>
<text transform="translate(548.19,1332.50) scale(1.012,1)">b</text>
<text transform="translate(569.57,1332.50) scale(0.977,1)">i</text>
<text transform="translate(578.72,1332.50) scale(0.993,1)">o</text>
<text transform="translate(600.16,1332.50) scale(1.100,1)">t</text>
<text transform="translate(612.89,1332.50) scale(0.951,1)">a</text>
<text transform="translate(633.82,1332.50) scale(1.100,1)">r</text>
<text transform="translate(647.18,1332.50) scale(0.962,1)">s</text>
<text transform="translate(664.90,1332.50) scale(1.010,1)">u</text>
<text transform="translate(686.22,1332.50) scale(0.962,1)">s</text>
<text transform="translate(715.39,1332.50) scale(0.886,1)">(</text>
<text transform="translate(727.43,1332.50) scale(0.856,1)">P</text>
<text transform="translate(747.46,1332.50) scale(0.912,1)">C</text>
<text transform="translate(772.25,1332.50) scale(0.918,1)">1</text>
<text transform="translate(793.97,1332.50) scale(0.887,1)">)</text>
</g>
<rect x="489.3" y="1339.2" width="341.40" height="284.80" fill="none" stroke="#000" stroke-width="2.5" stroke-linejoin="round"/>
<line x1="501.9" y1="1350.7" x2="501.9" y2="1531.9" stroke="#000" stroke-width="3.7" stroke-linecap="round"/>
<line x1="575.8" y1="1420.3" x2="575.8" y2="1612.6" stroke="#000" stroke-width="3.7" stroke-linecap="round"/>
<line x1="644.0" y1="1381.7" x2="644.0" y2="1539.7" stroke="#000" stroke-width="3.7" stroke-linecap="round"/>
<line x1="703.8" y1="1356.7" x2="703.8" y2="1497.4" stroke="#000" stroke-width="3.7" stroke-linecap="round"/>
<line x1="740.9" y1="1436.3" x2="740.9" y2="1543.5" stroke="#000" stroke-width="3.7" stroke-linecap="round"/>
<line x1="768.2" y1="1414.1" x2="768.2" y2="1483.5" stroke="#000" stroke-width="3.7" stroke-linecap="round"/>
<line x1="789.3" y1="1432.2" x2="789.3" y2="1482.5" stroke="#000" stroke-width="3.7" stroke-linecap="round"/>
<line x1="817.9" y1="1370.3" x2="817.9" y2="1529.9" stroke="#000" stroke-width="3.7" stroke-linecap="round"/>
<polyline fill="none" stroke="#000" stroke-width="4.0" stroke-linejoin="round" points="501.9,1441.2 575.8,1516.7 644.0,1461.0 703.8,1426.8 740.9,1489.9 768.2,1448.7 789.3,1457.7 817.9,1450.5"/>
<circle cx="501.9" cy="1441.2" r="6.0" fill="#fff" stroke="#000" stroke-width="3.0"/>
<circle cx="575.8" cy="1516.7" r="6.0" fill="#fff" stroke="#000" stroke-width="3.0"/>
<circle cx="644.0" cy="1461.0" r="6.0" fill="#fff" stroke="#000" stroke-width="3.0"/>
<circle cx="703.8" cy="1426.8" r="6.0" fill="#fff" stroke="#000" stroke-width="3.0"/>
<circle cx="740.9" cy="1489.9" r="6.0" fill="#fff" stroke="#000" stroke-width="3.0"/>
<circle cx="768.2" cy="1448.7" r="6.0" fill="#fff" stroke="#000" stroke-width="3.0"/>
<circle cx="789.3" cy="1457.7" r="6.0" fill="#fff" stroke="#000" stroke-width="3.0"/>
<circle cx="817.9" cy="1450.5" r="6.0" fill="#fff" stroke="#000" stroke-width="3.0"/>
<polygon transform="translate(455.00,1396.90) rotate(-90)" points="10.80,0.00 7.20,0.00 7.20,-20.95 5.14,-19.28 0.00,-16.78 0.00,-19.93 3.94,-21.87 6.94,-24.47 8.54,-27.18 10.80,-27.18" fill="#000"/>
<text transform="translate(455.00,1475.00) rotate(-90) scale(0.9957,1.0) translate(-1.54,0)" class="t" font-size="39.5" fill="#000">0</text>
<text transform="translate(455.00,1555.70) rotate(-90) scale(0.9513,1.0) translate(-3.24,0)" class="t" font-size="39.5" fill="#000">B</text>
<polygon transform="translate(455.00,1540.00) rotate(-90)" points="8.00,0.00 5.33,0.00 5.33,-20.95 3.81,-19.28 0.00,-16.78 0.00,-19.93 2.92,-21.87 5.14,-24.47 6.33,-27.18 8.00,-27.18" fill="#000"/>
<text transform="translate(455.00,1637.80) rotate(-90) scale(0.9133,1.0) translate(-3.24,0)" class="t" font-size="39.5" fill="#000">B</text>
<text transform="translate(455.00,1619.60) rotate(-90) scale(1.0281,1.0) translate(-1.99,0)" class="t" font-size="39.5" fill="#000">2</text>
<g class="t" font-size="37" fill="#000" stroke="#000" stroke-width="0.45">
<text transform="translate(532.58,1669.00) scale(0.922,1)">2</text>
<text transform="translate(553.60,1669.00) scale(0.988,1)">9</text>
</g>
<g class="t" font-size="37" fill="#000" stroke="#000" stroke-width="0.45">
<text transform="translate(657.26,1669.00) scale(0.936,1)">2</text>
<text transform="translate(679.03,1669.00) scale(0.971,1)">0</text>
</g>
<g class="t" font-size="37" fill="#000" stroke="#000" stroke-width="0.45">
<text transform="translate(720.29,1669.00) scale(0.926,1)">1</text>
<text transform="translate(742.09,1669.00) scale(0.915,1)">5</text>
</g>
<g class="t" font-size="37" fill="#000" stroke="#000" stroke-width="0.45">
<text transform="translate(783.47,1669.00) scale(0.897,1)">1</text>
<text transform="translate(804.45,1669.00) scale(0.897,1)">1</text>
</g>
<g class="t" font-size="37" fill="#000" stroke="#000" stroke-width="0.45">
<text transform="translate(501.99,1608.10) scale(0.952,1)">5</text>
<text transform="translate(523.25,1608.10) scale(0.952,1)">5</text>
<text transform="translate(544.22,1608.10) scale(0.886,1)">%</text>
</g>
<rect x="68.1" y="1722.2" width="341.40" height="284.10" fill="#F0D3EE"/>
<line x1="201.0" y1="1725.70" x2="201.0" y2="2006.3" stroke="#111" stroke-width="1.55" stroke-dasharray="4.4 4.65"/>
<line x1="201.0" y1="2006.3" x2="201.0" y2="2021.3" stroke="#000" stroke-width="2.4"/>
<line x1="295.8" y1="1725.70" x2="295.8" y2="2006.3" stroke="#111" stroke-width="1.55" stroke-dasharray="4.4 4.65"/>
<line x1="295.8" y1="2006.3" x2="295.8" y2="2021.3" stroke="#000" stroke-width="2.4"/>
<line x1="348.4" y1="1725.70" x2="348.4" y2="2006.3" stroke="#111" stroke-width="1.55" stroke-dasharray="4.4 4.65"/>
<line x1="348.4" y1="2006.3" x2="348.4" y2="2021.3" stroke="#000" stroke-width="2.4"/>
<line x1="390.6" y1="1725.70" x2="390.6" y2="2006.3" stroke="#111" stroke-width="1.55" stroke-dasharray="4.4 4.65"/>
<line x1="390.6" y1="2006.3" x2="390.6" y2="2021.3" stroke="#000" stroke-width="2.4"/>
<line x1="53.3" y1="1743.8" x2="68.1" y2="1743.8" stroke="#000" stroke-width="2.4"/>
<line x1="53.3" y1="1803.9" x2="68.1" y2="1803.9" stroke="#000" stroke-width="2.4"/>
<line x1="53.3" y1="1875.8" x2="68.1" y2="1875.8" stroke="#000" stroke-width="2.4"/>
<line x1="53.3" y1="1948.3" x2="68.1" y2="1948.3" stroke="#000" stroke-width="2.4"/>
<g class="t" font-size="36" font-style="italic" fill="#7F7F7F" stroke="#7F7F7F" stroke-width="0.3">
<text transform="translate(44.58,1713.60) scale(0.914,1)">C</text>
<text transform="translate(69.25,1713.60) scale(0.953,1)">a</text>
<text transform="translate(90.24,1713.60) scale(1.100,1)">r</text>
<text transform="translate(104.14,1713.60) scale(1.015,1)">p</text>
<text transform="translate(125.22,1713.60) scale(0.995,1)">o</text>
<text transform="translate(146.12,1713.60) scale(1.064,1)">m</text>
<text transform="translate(178.89,1713.60) scale(1.018,1)">e</text>
<text transform="translate(200.57,1713.60) scale(1.100,1)">t</text>
<text transform="translate(213.31,1713.60) scale(0.953,1)">a</text>
<text transform="translate(233.82,1713.60) scale(1.012,1)">c</text>
<text transform="translate(252.70,1713.60) scale(0.953,1)">a</text>
<text transform="translate(273.69,1713.60) scale(1.100,1)">r</text>
<text transform="translate(287.59,1713.60) scale(1.015,1)">p</text>
<text transform="translate(308.69,1713.60) scale(1.013,1)">u</text>
<text transform="translate(330.05,1713.60) scale(0.964,1)">s</text>
<text transform="translate(359.29,1713.60) scale(0.888,1)">(</text>
<text transform="translate(371.35,1713.60) scale(0.858,1)">P</text>
<text transform="translate(391.43,1713.60) scale(0.914,1)">C</text>
<text transform="translate(416.28,1713.60) scale(0.921,1)">1</text>
<text transform="translate(438.05,1713.60) scale(0.889,1)">)</text>
</g>
<rect x="68.1" y="1722.2" width="341.40" height="284.10" fill="none" stroke="#000" stroke-width="2.5" stroke-linejoin="round"/>
<line x1="80.9" y1="1733.3" x2="80.9" y2="1775.4" stroke="#000" stroke-width="3.7" stroke-linecap="round"/>
<line x1="160.7" y1="1787.9" x2="160.7" y2="1846.2" stroke="#000" stroke-width="3.7" stroke-linecap="round"/>
<line x1="216.5" y1="1786.1" x2="216.5" y2="1906.8" stroke="#000" stroke-width="3.7" stroke-linecap="round"/>
<line x1="267.5" y1="1817.0" x2="267.5" y2="1930.0" stroke="#000" stroke-width="3.7" stroke-linecap="round"/>
<line x1="312.6" y1="1810.1" x2="312.6" y2="1935.1" stroke="#000" stroke-width="3.7" stroke-linecap="round"/>
<line x1="339.4" y1="1836.4" x2="339.4" y2="1904.7" stroke="#000" stroke-width="3.7" stroke-linecap="round"/>
<line x1="360.0" y1="1857.0" x2="360.0" y2="1915.3" stroke="#000" stroke-width="3.7" stroke-linecap="round"/>
<line x1="377.0" y1="1886.6" x2="377.0" y2="1923.5" stroke="#000" stroke-width="3.7" stroke-linecap="round"/>
<line x1="397.3" y1="1840.2" x2="397.3" y2="1995.7" stroke="#000" stroke-width="3.7" stroke-linecap="round"/>
<polyline fill="none" stroke="#000" stroke-width="4.0" stroke-linejoin="round" points="80.9,1754.5 160.7,1817.1 216.5,1846.8 267.5,1873.8 312.6,1873.0 339.4,1870.7 360.0,1885.9 377.0,1904.9 397.3,1918.1"/>
<circle cx="80.9" cy="1754.5" r="6.0" fill="#fff" stroke="#000" stroke-width="3.0"/>
<circle cx="160.7" cy="1817.1" r="6.0" fill="#fff" stroke="#000" stroke-width="3.0"/>
<circle cx="216.5" cy="1846.8" r="6.0" fill="#fff" stroke="#000" stroke-width="3.0"/>
<circle cx="267.5" cy="1873.8" r="6.0" fill="#fff" stroke="#000" stroke-width="3.0"/>
<circle cx="312.6" cy="1873.0" r="6.0" fill="#fff" stroke="#000" stroke-width="3.0"/>
<circle cx="339.4" cy="1870.7" r="6.0" fill="#fff" stroke="#000" stroke-width="3.0"/>
<circle cx="360.0" cy="1885.9" r="6.0" fill="#fff" stroke="#000" stroke-width="3.0"/>
<circle cx="377.0" cy="1904.9" r="6.0" fill="#fff" stroke="#000" stroke-width="3.0"/>
<circle cx="397.3" cy="1918.1" r="6.0" fill="#fff" stroke="#000" stroke-width="3.0"/>
<text transform="translate(34.00,1736.50) rotate(-90) scale(1.0058,1.0) translate(-1.99,0)" class="t" font-size="39.5" fill="#000">2</text>
<polygon transform="translate(34.00,1806.80) rotate(-90)" points="10.30,0.00 6.87,0.00 6.87,-20.95 4.90,-19.28 0.00,-16.78 0.00,-19.93 3.76,-21.87 6.62,-24.47 8.14,-27.18 10.30,-27.18" fill="#000"/>
<text transform="translate(34.00,1881.00) rotate(-90) scale(0.9798,1.0) translate(-1.54,0)" class="t" font-size="39.5" fill="#000">0</text>
<polygon transform="translate(34.00,1944.20) rotate(-90)" points="10.60,0.00 7.07,0.00 7.07,-20.95 5.04,-19.28 0.00,-16.78 0.00,-19.93 3.87,-21.87 6.81,-24.47 8.38,-27.18 10.60,-27.18" fill="#000"/>
<rect x="20.15" y="1937.10" width="3.3" height="20.80" fill="#000"/>
<g class="t" font-size="38" fill="#000" stroke="#000" stroke-width="0.45">
<text transform="translate(183.62,2055.90) scale(0.982,1)">2</text>
<text transform="translate(204.60,2055.90) scale(0.962,1)">9</text>
</g>
<g class="t" font-size="38" fill="#000" stroke="#000" stroke-width="0.45">
<text transform="translate(274.11,2055.90) scale(0.988,1)">2</text>
<text transform="translate(295.48,2055.90) scale(0.948,1)">0</text>
</g>
<g class="t" font-size="38" fill="#000" stroke="#000" stroke-width="0.45">
<polygon points="339.70,2055.90 337.00,2055.90 337.00,2032.77 332.37,2036.87 330.90,2034.80 337.36,2029.38 339.70,2029.38" stroke-width="0.27"/>
<text transform="translate(348.24,2055.90) scale(0.853,1)">5</text>
</g>
<g class="t" font-size="38" fill="#000" stroke="#000" stroke-width="0.45">
<polygon points="389.49,2055.90 386.66,2055.90 386.66,2032.77 381.83,2036.87 380.30,2034.80 387.05,2029.38 389.49,2029.38" stroke-width="0.27"/>
<polygon points="409.90,2055.90 407.08,2055.90 407.08,2032.77 402.25,2036.87 400.71,2034.80 407.46,2029.38 409.90,2029.38" stroke-width="0.27"/>
</g>
<g class="t" font-size="37" fill="#000" stroke="#000" stroke-width="0.45">
<text transform="translate(80.98,1990.70) scale(0.956,1)">5</text>
<polygon points="114.36,1990.70 111.41,1990.70 111.41,1968.18 106.36,1972.17 104.75,1970.16 111.81,1964.87 114.36,1964.87" stroke-width="0.27"/>
<text transform="translate(123.40,1990.70) scale(0.890,1)">%</text>
</g>
<rect x="492.6" y="1722.2" width="341.40" height="284.10" fill="#DFEFEE"/>
<line x1="621.1" y1="1725.70" x2="621.1" y2="2006.3" stroke="#111" stroke-width="1.55" stroke-dasharray="4.4 4.65"/>
<line x1="621.1" y1="2006.3" x2="621.1" y2="2021.3" stroke="#000" stroke-width="2.4"/>
<line x1="712.1" y1="1725.70" x2="712.1" y2="2006.3" stroke="#111" stroke-width="1.55" stroke-dasharray="4.4 4.65"/>
<line x1="712.1" y1="2006.3" x2="712.1" y2="2021.3" stroke="#000" stroke-width="2.4"/>
<line x1="762.3" y1="1725.70" x2="762.3" y2="2006.3" stroke="#111" stroke-width="1.55" stroke-dasharray="4.4 4.65"/>
<line x1="762.3" y1="2006.3" x2="762.3" y2="2021.3" stroke="#000" stroke-width="2.4"/>
<line x1="802.7" y1="1725.70" x2="802.7" y2="2006.3" stroke="#111" stroke-width="1.55" stroke-dasharray="4.4 4.65"/>
<line x1="802.7" y1="2006.3" x2="802.7" y2="2021.3" stroke="#000" stroke-width="2.4"/>
<line x1="477.1" y1="1745.2" x2="492.6" y2="1745.2" stroke="#000" stroke-width="2.4"/>
<line x1="477.1" y1="1816.8" x2="492.6" y2="1816.8" stroke="#000" stroke-width="2.4"/>
<line x1="477.1" y1="1888.4" x2="492.6" y2="1888.4" stroke="#000" stroke-width="2.4"/>
<line x1="477.1" y1="1959.8" x2="492.6" y2="1959.8" stroke="#000" stroke-width="2.4"/>
<g class="t" font-size="36" font-style="italic" fill="#7F7F7F" stroke="#7F7F7F" stroke-width="0.3">
<text transform="translate(470.54,1713.80) scale(1.008,1)">T</text>
<text transform="translate(493.30,1713.80) scale(0.936,1)">a</text>
<text transform="translate(513.77,1713.80) scale(1.100,1)">r</text>
<text transform="translate(527.05,1713.80) scale(0.947,1)">s</text>
<text transform="translate(544.46,1713.80) scale(0.977,1)">o</text>
<text transform="translate(564.99,1713.80) scale(1.045,1)">m</text>
<text transform="translate(597.16,1713.80) scale(0.999,1)">e</text>
<text transform="translate(618.33,1713.80) scale(1.100,1)">t</text>
<text transform="translate(630.97,1713.80) scale(0.936,1)">a</text>
<text transform="translate(651.76,1713.80) scale(1.100,1)">t</text>
<text transform="translate(664.40,1713.80) scale(0.936,1)">a</text>
<text transform="translate(684.87,1713.80) scale(1.100,1)">r</text>
<text transform="translate(698.15,1713.80) scale(0.947,1)">s</text>
<text transform="translate(715.59,1713.80) scale(0.994,1)">u</text>
<text transform="translate(736.56,1713.80) scale(0.947,1)">s</text>
<text transform="translate(765.28,1713.80) scale(0.872,1)">(</text>
<text transform="translate(777.12,1713.80) scale(0.842,1)">P</text>
<text transform="translate(796.84,1713.80) scale(0.897,1)">C</text>
<text transform="translate(821.23,1713.80) scale(0.904,1)">1</text>
<text transform="translate(842.61,1713.80) scale(0.873,1)">)</text>
</g>
<rect x="492.6" y="1722.2" width="341.40" height="284.10" fill="none" stroke="#000" stroke-width="2.5" stroke-linejoin="round"/>
<line x1="504.7" y1="1779.7" x2="504.7" y2="1921.7" stroke="#000" stroke-width="3.7" stroke-linecap="round"/>
<line x1="581.7" y1="1853.6" x2="581.7" y2="1935.1" stroke="#000" stroke-width="3.7" stroke-linecap="round"/>
<line x1="637.3" y1="1790.0" x2="637.3" y2="1982.3" stroke="#000" stroke-width="3.7" stroke-linecap="round"/>
<line x1="684.0" y1="1803.4" x2="684.0" y2="1990.0" stroke="#000" stroke-width="3.7" stroke-linecap="round"/>
<line x1="727.5" y1="1733.3" x2="727.5" y2="1993.1" stroke="#000" stroke-width="3.7" stroke-linecap="round"/>
<line x1="753.3" y1="1889.2" x2="753.3" y2="1995.1" stroke="#000" stroke-width="3.7" stroke-linecap="round"/>
<line x1="773.4" y1="1862.6" x2="773.4" y2="1946.7" stroke="#000" stroke-width="3.7" stroke-linecap="round"/>
<line x1="788.6" y1="1853.9" x2="788.6" y2="1905.0" stroke="#000" stroke-width="3.7" stroke-linecap="round"/>
<line x1="821.3" y1="1748.8" x2="821.3" y2="1960.9" stroke="#000" stroke-width="3.7" stroke-linecap="round"/>
<polyline fill="none" stroke="#000" stroke-width="4.0" stroke-linejoin="round" points="504.7,1850.8 581.7,1894.6 637.3,1886.6 684.0,1897.2 727.5,1863.2 753.3,1942.3 773.4,1904.7 788.6,1879.7 821.3,1855.2"/>
<circle cx="504.7" cy="1850.8" r="6.0" fill="#fff" stroke="#000" stroke-width="3.0"/>
<circle cx="581.7" cy="1894.6" r="6.0" fill="#fff" stroke="#000" stroke-width="3.0"/>
<circle cx="637.3" cy="1886.6" r="6.0" fill="#fff" stroke="#000" stroke-width="3.0"/>
<circle cx="684.0" cy="1897.2" r="6.0" fill="#fff" stroke="#000" stroke-width="3.0"/>
<circle cx="727.5" cy="1863.2" r="6.0" fill="#fff" stroke="#000" stroke-width="3.0"/>
<circle cx="753.3" cy="1942.3" r="6.0" fill="#fff" stroke="#000" stroke-width="3.0"/>
<circle cx="773.4" cy="1904.7" r="6.0" fill="#fff" stroke="#000" stroke-width="3.0"/>
<circle cx="788.6" cy="1879.7" r="6.0" fill="#fff" stroke="#000" stroke-width="3.0"/>
<circle cx="821.3" cy="1855.2" r="6.0" fill="#fff" stroke="#000" stroke-width="3.0"/>
<polygon transform="translate(470.70,1758.90) rotate(-90)" points="11.60,0.00 7.73,0.00 7.73,-20.95 5.52,-19.28 0.00,-16.78 0.00,-19.93 4.23,-21.87 7.45,-24.47 9.17,-27.18 11.60,-27.18" fill="#000"/>
<text transform="translate(470.70,1833.60) rotate(-90) scale(0.9225,1.0) translate(-1.54,0)" class="t" font-size="39.5" fill="#000">0.5</text>
<text transform="translate(470.70,1896.70) rotate(-90) scale(0.9851,1.0) translate(-1.54,0)" class="t" font-size="39.5" fill="#000">0</text>
<text transform="translate(470.70,1998.40) rotate(-90) scale(0.9751,1.0) translate(-3.24,0)" class="t" font-size="39.5" fill="#000">B</text>
<text transform="translate(470.70,1981.90) rotate(-90) scale(0.9747,1.0) translate(-1.54,0)" class="t" font-size="39.5" fill="#000">0.5</text>
<g class="t" font-size="38" fill="#000" stroke="#000" stroke-width="0.45">
<text transform="translate(596.13,2055.90) scale(0.979,1)">2</text>
<text transform="translate(617.05,2055.90) scale(0.960,1)">9</text>
</g>
<g class="t" font-size="38" fill="#000" stroke="#000" stroke-width="0.45">
<text transform="translate(687.05,2055.90) scale(0.968,1)">2</text>
<text transform="translate(707.97,2055.90) scale(0.928,1)">0</text>
</g>
<g class="t" font-size="38" fill="#000" stroke="#000" stroke-width="0.45">
<polygon points="751.00,2055.90 748.30,2055.90 748.30,2032.77 743.67,2036.87 742.20,2034.80 748.66,2029.38 751.00,2029.38" stroke-width="0.27"/>
<text transform="translate(759.54,2055.90) scale(0.853,1)">5</text>
</g>
<g class="t" font-size="38" fill="#000" stroke="#000" stroke-width="0.45">
<polygon points="801.65,2055.90 798.65,2055.90 798.65,2032.77 793.53,2036.87 791.90,2034.80 799.06,2029.38 801.65,2029.38" stroke-width="0.27"/>
<polygon points="823.30,2055.90 820.30,2055.90 820.30,2032.77 815.18,2036.87 813.55,2034.80 820.71,2029.38 823.30,2029.38" stroke-width="0.27"/>
</g>
<g class="t" font-size="37" fill="#000" stroke="#000" stroke-width="0.45">
<text transform="translate(504.58,1991.20) scale(0.962,1)">5</text>
<text transform="translate(525.46,1991.20) scale(1.003,1)">0</text>
<text transform="translate(547.23,1991.20) scale(0.895,1)">%</text>
</g>
<g class="t" font-size="37" fill="#000" stroke="#000" stroke-width="0.45">
<text transform="translate(175.74,2095.00) scale(1.007,1)">W</text>
<text transform="translate(211.72,2095.00) scale(1.100,1)">i</text>
<text transform="translate(221.77,2095.00) scale(1.100,1)">n</text>
<text transform="translate(244.59,2095.00) scale(1.100,1)">g</text>
<text transform="translate(267.24,2095.00) scale(0.912,1)">s</text>
</g>
<g class="t" font-size="37" fill="#000" stroke="#000" stroke-width="0.45">
<text transform="translate(624.14,2095.00) scale(0.977,1)">L</text>
<text transform="translate(644.56,2095.00) scale(1.044,1)">e</text>
<text transform="translate(666.42,2095.00) scale(1.100,1)">g</text>
<text transform="translate(689.44,2095.00) scale(0.941,1)">s</text>
</g>
</svg></body></html>
